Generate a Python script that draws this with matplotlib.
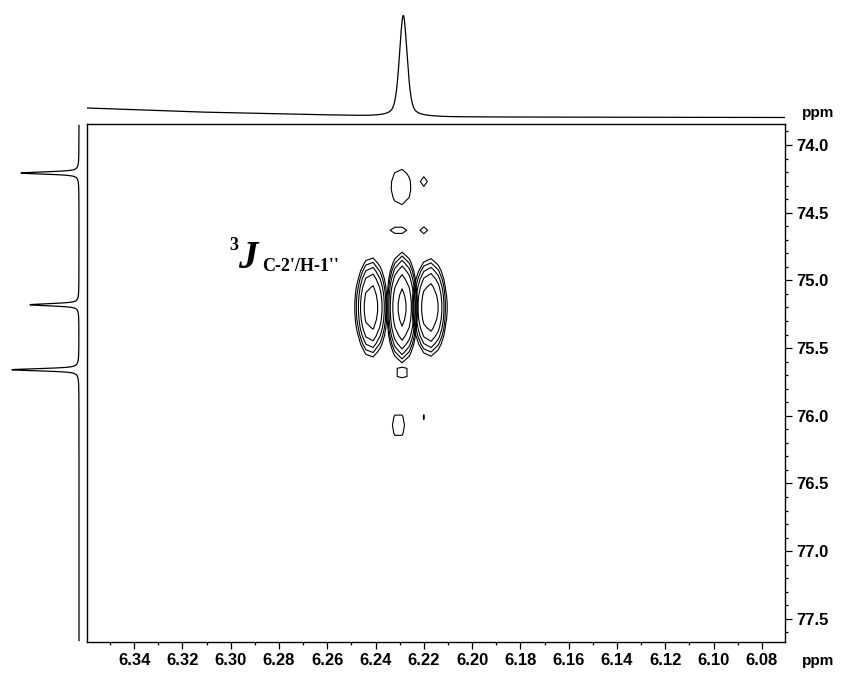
import numpy as np
import matplotlib
matplotlib.use("Agg")
import matplotlib.pyplot as plt
from matplotlib.ticker import MultipleLocator, FormatStrFormatter

plt.rcParams['font.family'] = ['Liberation Sans', 'DejaVu Sans']

# spectral window (ppm)
h_window = (6.3595, 6.0704)   # F2, 1H
c_window = (73.845, 77.671)   # F1, 13C

# 1H projection (top)
h_peak_pos = [6.2285]
h_peak_height = [101.0]
h_peak_fwhm = [0.0038]
h_base_ppm = [6.3595, 6.3138, 6.2597, 6.2431, 6.2098, 6.0704]
h_base_level = [16.0, 12.0, 9.0, 8.0, 7.0, 6.5]

# 13C trace (left)
c_peak_pos = [74.207, 75.18, 75.66]
c_peak_height = [58.0, 49.0, 67.0]
c_peak_fwhm = [0.02, 0.02, 0.02]
c_base_level = 8.0

# HMBC cross peaks: 1H ppm, 13C ppm, 1H sigma, 13C sigma, intensity
xp_h = [6.2418, 6.2290, 6.2175, 6.2295, 6.2200, 6.2305, 6.2200, 6.2290, 6.2305, 6.2200]
xp_c = [75.20, 75.20, 75.20, 74.31, 74.27, 74.63, 74.63, 75.68, 76.07, 76.01]
xp_sh = [0.0039, 0.0034, 0.0041, 0.0070, 0.0038, 0.0050, 0.0040, 0.0055, 0.0040, 0.0020]
xp_sc = [0.22, 0.22, 0.21, 0.22, 0.085, 0.05, 0.07, 0.06, 0.14, 0.10]
xp_amp = [4.0, 5.5, 4.3, 1.2, 1.15, 1.3, 1.15, 1.25, 1.25, 1.05]
contour_levels = [1.0, 1.25, 1.6, 2.1, 3.0, 4.5]


def pseudo_voigt(x, x0, fwhm, eta=0.5):
    hw = fwhm / 2.0
    lor = 1.0 / (1.0 + ((x - x0) / hw) ** 2)
    gau = np.exp(-np.log(2) * ((x - x0) / hw) ** 2)
    return eta * lor + (1 - eta) * gau


W, H = 847, 675
fig = plt.figure(figsize=(W / 100, H / 100), dpi=100)

ax_l, ax_r, ax_t, ax_b = 87, 785, 124, 642
ax = fig.add_axes([ax_l / W, 1 - ax_b / H, (ax_r - ax_l) / W, (ax_b - ax_t) / H])

# 2D contour map on a coarse acquisition-like grid, one contour set per peak
hh = np.arange(6.2290 - 0.003 * 12, 6.2290 + 0.003 * 12 + 1e-9, 0.003)
cc = np.arange(73.85, 77.6, 0.06)
HH, CC = np.meshgrid(hh, cc)
for h0, c0, sh, sc, a in zip(xp_h, xp_c, xp_sh, xp_sc, xp_amp):
    Z = a * np.exp(-0.5 * ((HH - h0) / sh) ** 2 - 0.5 * ((CC - c0) / sc) ** 2)
    lv = [v for v in contour_levels if v < Z.max()]
    if lv:
        ax.contour(HH, CC, Z, levels=lv, colors='black', linewidths=0.8)

ax.set_xlim(*h_window)
ax.set_ylim(c_window[1], c_window[0])
ax.xaxis.set_major_locator(MultipleLocator(0.02))
ax.xaxis.set_minor_locator(MultipleLocator(0.01))
ax.yaxis.set_major_locator(MultipleLocator(0.5))
ax.yaxis.set_minor_locator(MultipleLocator(0.1))
ax.xaxis.set_major_formatter(FormatStrFormatter('%.2f'))
ax.yaxis.set_major_formatter(FormatStrFormatter('%.1f'))
ax.yaxis.tick_right()
ax.tick_params(which='both', direction='out', color='black', width=0.9)
ax.tick_params(which='major', length=5, labelsize=12, pad=3)
ax.tick_params(which='minor', length=2.5)
ax.tick_params(axis='y', which='major', pad=3)
for lbl in ax.get_xticklabels() + ax.get_yticklabels():
    lbl.set_fontweight('bold')
for sp in ax.spines.values():
    sp.set_linewidth(1.0)

# coupling label
ax.text(0.2034, 0.7568, '3', transform=ax.transAxes, family='Liberation Serif',
        fontweight='bold', fontsize=13, va='baseline', ha='left')
ax.text(0.2163, 0.722, 'J', transform=ax.transAxes, family='Liberation Serif',
        fontweight='bold', style='italic', fontsize=28, va='baseline', ha='left')
ax.text(0.2507, 0.7162, "C-2'/H-1''", transform=ax.transAxes, family='Liberation Serif',
        fontweight='bold', fontsize=13, va='baseline', ha='left')

# top projection
ax_top = fig.add_axes([ax_l / W, 1 - ax_t / H, (ax_r - ax_l) / W, ax_t / H])
h_x = np.linspace(h_base_ppm[0], h_base_ppm[-1], 1500)
h_y = np.interp(h_x[::-1], h_base_ppm[::-1], h_base_level[::-1])[::-1]
for p, a, w in zip(h_peak_pos, h_peak_height, h_peak_fwhm):
    h_y = h_y + a * pseudo_voigt(h_x, p, w, eta=0.45)
ax_top.plot(h_x, h_y, color='black', lw=0.9)
ax_top.set_xlim(*h_window)
ax_top.set_ylim(0, ax_t)
ax_top.axis('off')

# left 13C trace
ax_left = fig.add_axes([0, 1 - ax_b / H, ax_l / W, (ax_b - ax_t) / H])
c_y = np.linspace(c_window[0] + 0.01, c_window[1] - 0.01, 2000)
c_x = np.full_like(c_y, c_base_level)
for p, a, w in zip(c_peak_pos, c_peak_height, c_peak_fwhm):
    c_x = c_x + a * pseudo_voigt(c_y, p, w, eta=0.6)
ax_left.plot(c_x, c_y, color='black', lw=0.9)
ax_left.set_xlim(ax_l, 0)
ax_left.set_ylim(c_window[1], c_window[0])
ax_left.axis('off')

# axis unit labels
fig.text(818 / W, 1 - 117 / H, 'ppm', fontsize=11, fontweight='bold',
         ha='center', va='baseline')
fig.text(818 / W, 1 - 665 / H, 'ppm', fontsize=11, fontweight='bold',
         ha='center', va='baseline')

fig.savefig('out.png', dpi=100)
